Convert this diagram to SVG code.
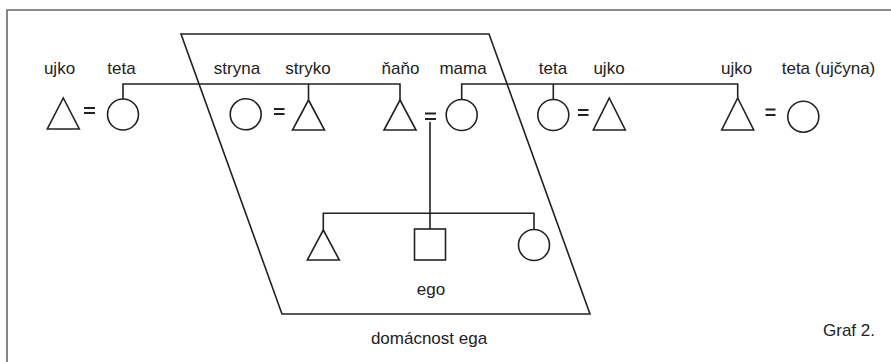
<svg xmlns="http://www.w3.org/2000/svg" width="891" height="362" viewBox="0 0 891 362">
<style>
.s{fill:#fff;stroke:#222;stroke-width:1.6}
.c{fill:none;stroke:#222;stroke-width:1.6}
.eq{fill:none;stroke:#222;stroke-width:2.2}
.t{font-family:"Liberation Sans",Arial,sans-serif;font-size:17px;fill:#222;text-anchor:middle}
</style>
<rect x="0" y="0" width="891" height="362" fill="#fff"/>
<path d="M7,362 V10 H891" fill="none" stroke="#666" stroke-width="1.6"/>
<g id="household"><polygon points="181,34 489,34 590,314 282,314" class="c"/></g>
<g id="connectors">
<path class="c" d="M123,99 V84 H400 V100 M308.5,84 V100"/>
<path class="c" d="M461.7,99.5 V84 H737.7 V98 M553.3,84 V99.5"/>
<path class="c" d="M430,122 V229 M323.3,230 V213.3 H534 V229.5"/>
<path class="eq" d="M84,108 H95 M84,113 H95"/>
<path class="eq" d="M274,109 H284.5 M274,114 H284.5"/>
<path class="eq" d="M425,113.5 H436 M425,119 H436"/>
<path class="eq" d="M578,110 H588.5 M578,115 H588.5"/>
<path class="eq" d="M765.5,109.5 H775.5 M765.5,115 H775.5"/>
</g>
<g id="ujko1"><polygon class="s" points="63.3,98 79.3,129 47.3,129"/><text class="t" x="59.5" y="74">ujko</text></g>
<g id="teta1"><circle class="s" cx="123" cy="114.5" r="15.5"/><text class="t" x="121.5" y="74">teta</text></g>
<g id="stryna"><circle class="s" cx="245.7" cy="114.3" r="15.5"/><text class="t" x="237" y="74">stryna</text></g>
<g id="stryko"><polygon class="s" points="308.5,100 324.5,130 292.5,130"/><text class="t" x="308" y="74">stryko</text></g>
<g id="nano"><polygon class="s" points="400,100 416,130 384,130"/><text class="t" x="400.5" y="74">ňaňo</text></g>
<g id="mama"><circle class="s" cx="461.7" cy="115" r="15.5"/><text class="t" x="463" y="74">mama</text></g>
<g id="teta2"><circle class="s" cx="553.3" cy="115" r="15.5"/><text class="t" x="553" y="74">teta</text></g>
<g id="ujko2"><polygon class="s" points="609.3,98 625.3,130 593.3,130"/><text class="t" x="609" y="74">ujko</text></g>
<g id="ujko3"><polygon class="s" points="737.7,98 753.7,130 721.7,130"/><text class="t" x="736.7" y="74">ujko</text></g>
<g id="teta3"><circle class="s" cx="803.3" cy="116.7" r="15.5"/><text class="t" x="828.5" y="74">teta (ujčyna)</text></g>
<g id="brother"><polygon class="s" points="323.3,230 339.3,260 307.3,260"/></g>
<g id="ego"><rect class="s" x="414.5" y="229" width="31" height="31"/><text class="t" x="431" y="295">ego</text></g>
<g id="sister"><circle class="s" cx="534" cy="245" r="15.5"/></g>
<text class="t" x="429" y="344">domácnost ega</text>
<text class="t" x="849" y="336">Graf 2.</text>
</svg>
